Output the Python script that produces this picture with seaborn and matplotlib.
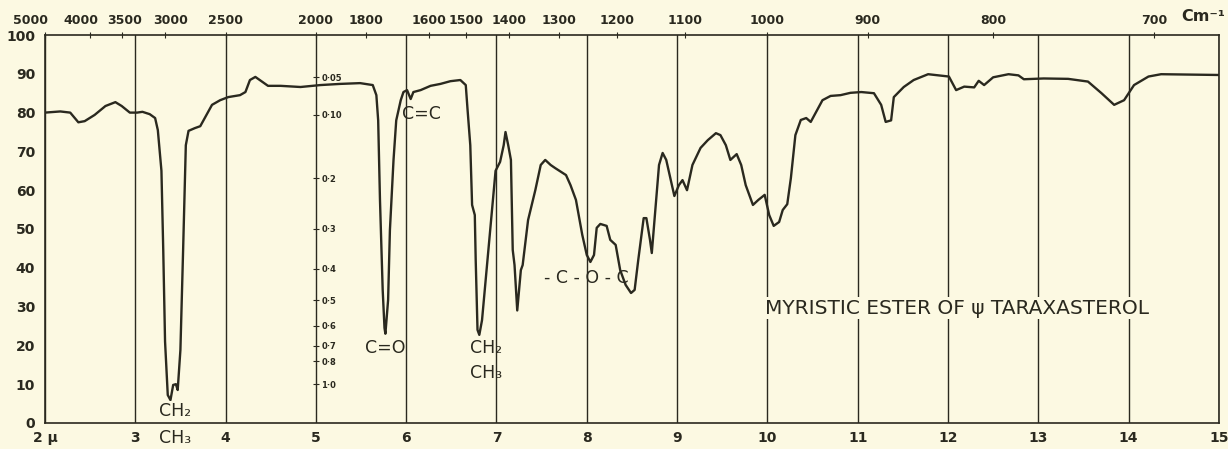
import numpy as np
import matplotlib
matplotlib.use("Agg")
import matplotlib.pyplot as plt
import matplotlib.transforms as mtransforms
import seaborn as sns

# IR spectrum: wavelength (microns) vs transmittance (%)
wavelength_um = [
    2.00, 2.17, 2.28, 2.37, 2.44, 2.55, 2.67, 2.78, 2.85, 2.94, 3.02, 3.08, 3.16, 3.22,
    3.25, 3.29, 3.31, 3.33, 3.36, 3.39, 3.42, 3.45, 3.47, 3.50, 3.53, 3.56, 3.59, 3.66,
    3.72, 3.77, 3.85, 3.94, 4.03, 4.16, 4.22, 4.27, 4.33, 4.41, 4.47, 4.61, 4.83, 5.05,
    5.27, 5.49, 5.63, 5.67, 5.69, 5.71, 5.74, 5.76, 5.77, 5.80, 5.82, 5.86, 5.89, 5.94,
    5.97, 6.01, 6.05, 6.08, 6.16, 6.27, 6.38, 6.49, 6.60, 6.66, 6.68, 6.71, 6.73, 6.76,
    6.77, 6.79, 6.81, 6.84, 6.91, 6.99, 7.04, 7.08, 7.10, 7.13, 7.16, 7.18, 7.20, 7.23,
    7.27, 7.29, 7.35, 7.43, 7.49, 7.54, 7.60, 7.65, 7.77, 7.82, 7.88, 7.95, 8.00, 8.04,
    8.08, 8.11, 8.15, 8.22, 8.26, 8.32, 8.37, 8.43, 8.49, 8.53, 8.57, 8.63, 8.66, 8.70,
    8.72, 8.75, 8.80, 8.84, 8.88, 8.93, 8.97, 9.02, 9.06, 9.11, 9.17, 9.26, 9.34, 9.43,
    9.48, 9.54, 9.59, 9.66, 9.71, 9.76, 9.84, 9.90, 9.97, 10.02, 10.07, 10.13, 10.17,
    10.22, 10.26, 10.31, 10.37, 10.43, 10.48, 10.54, 10.61, 10.70, 10.81, 10.92, 11.04,
    11.18, 11.26, 11.31, 11.37, 11.40, 11.51, 11.62, 11.78, 12.01, 12.09, 12.18, 12.29,
    12.34, 12.40, 12.50, 12.67, 12.78, 12.84, 13.06, 13.33, 13.55, 13.70, 13.84, 13.95,
    14.06, 14.22, 14.36, 15.00,
]
transmittance_pct = [
    80.0, 80.3, 80.0, 77.5, 77.8, 79.4, 81.7, 82.7, 81.7, 80.0, 80.0, 80.2, 79.6, 78.6,
    75.5, 65.0, 44.6, 21.0, 7.2, 5.9, 9.8, 10.0, 8.5, 18.8, 44.6, 71.6, 75.3, 76.0,
    76.5, 78.6, 82.0, 83.2, 84.0, 84.5, 85.3, 88.4, 89.2, 87.9, 86.9, 86.9, 86.6, 87.1,
    87.4, 87.6, 87.1, 84.5, 78.0, 57.5, 34.3, 24.5, 23.0, 31.7, 49.7, 67.8, 78.0, 83.2,
    85.3, 85.8, 83.5, 85.3, 85.8, 86.9, 87.4, 88.1, 88.4, 87.1, 80.7, 71.6, 56.2, 53.6,
    42.0, 24.0, 22.7, 26.5, 44.6, 65.0, 67.3, 71.6, 75.0, 71.6, 67.8, 44.6, 40.7, 29.0,
    39.4, 40.7, 52.3, 60.0, 66.5, 67.8, 66.5, 65.7, 63.9, 61.3, 57.5, 48.5, 43.3, 41.5,
    43.3, 50.3, 51.3, 50.8, 47.2, 45.9, 39.4, 35.6, 33.5, 34.3, 42.0, 52.8, 52.8, 47.2,
    43.8, 52.3, 66.5, 69.6, 67.8, 62.6, 58.5, 61.3, 62.6, 60.0, 66.5, 70.9, 72.9, 74.7,
    74.2, 71.6, 67.8, 69.3, 66.5, 61.3, 56.2, 57.5, 58.8, 53.6, 50.8, 51.8, 54.9,
    56.4, 63.1, 74.2, 78.1, 78.6, 77.6, 80.2, 83.2, 84.3, 84.5, 85.1, 85.3,
    85.0, 82.0, 77.6, 78.0, 84.0, 86.6, 88.4, 89.9, 89.3, 85.8, 86.7, 86.5,
    88.2, 87.1, 89.1, 89.9, 89.6, 88.6, 88.8, 88.7, 88.0, 85.0, 82.0, 83.2,
    87.1, 89.3, 89.9, 89.7,
]

micron_ticks = list(range(2, 16))
micron_labels = ["2 μ"] + [str(m) for m in micron_ticks[1:]]
wavenumbers = [5000, 4000, 3500, 3000, 2500, 2000, 1800, 1600, 1500, 1400, 1300,
               1200, 1100, 1000, 900, 800, 700]
percent_ticks = list(range(0, 101, 10))
absorbance_ticks = [0.05, 0.10, 0.2, 0.3, 0.4, 0.5, 0.6, 0.7, 0.8, 1.0]
absorbance_labels = ["0·05", "0·10", "0·2", "0·3", "0·4", "0·5", "0·6", "0·7", "0·8", "1·0"]

bg = "#fcf9e2"
ink = "#2a291f"

sns.set_style("white")
plt.rcParams["font.family"] = ["DejaVu Sans"]

fig = plt.figure(figsize=(12.28, 4.49), dpi=100, facecolor=bg)
ax = fig.add_axes([0.0366, 0.058, 0.9560, 0.864], facecolor=bg)

sns.lineplot(x=wavelength_um, y=transmittance_pct, estimator=None, sort=False,
             color=ink, lw=1.7, ax=ax)

ax.set_xlim(2, 15)
ax.set_ylim(0, 100)
for s in ax.spines.values():
    s.set_color(ink)
    s.set_linewidth(1.2)

ax.set_xticks(micron_ticks)
ax.set_xticklabels(micron_labels, fontsize=10, fontweight="bold", color=ink)
ax.set_yticks(percent_ticks)
ax.set_yticklabels([str(p) for p in percent_ticks], fontsize=10, fontweight="bold", color=ink)
ax.tick_params(axis="x", length=0, pad=6)
ax.tick_params(axis="y", direction="out", length=3, color=ink, pad=4)
ax.grid(axis="x", color=ink, lw=1.0)
ax.grid(axis="y", visible=False)

# wavenumber scale on top
top = ax.twiny()
top.set_xlim(ax.get_xlim())
top.set_xticks([1e4 / w for w in wavenumbers])
top.set_xticklabels([str(w) for w in wavenumbers], fontsize=9, fontweight="bold", color=ink)
top.tick_params(axis="x", direction="inout", length=5, color=ink, pad=3)
for s in top.spines.values():
    s.set_visible(False)
# crowded labels at the short-wave end sit a little off their ticks, as on the chart
label_shift = {"5000": -14, "4000": -9, "3500": 2, "3000": 5}
for lab in top.get_xticklabels():
    dx = label_shift.get(lab.get_text(), 0)
    if dx:
        lab.set_transform(lab.get_transform() +
                          mtransforms.ScaledTranslation(dx / 100, 0, fig.dpi_scale_trans))
fig.text(0.962, 0.953, "Cm⁻¹", fontsize=11.5, fontweight="bold", color=ink)

# absorbance scale along the 5 micron line
def t_to_a(t):
    return -np.log10(np.clip(np.asarray(t, dtype=float), 1e-3, None) / 100)

def a_to_t(a):
    return 100 * 10 ** (-np.asarray(a, dtype=float))

sec = ax.secondary_yaxis((5 - 2) / 13, functions=(t_to_a, a_to_t))
sec.yaxis.set_ticks_position("right")
sec.set_yticks(absorbance_ticks)
sec.set_yticklabels(absorbance_labels, fontsize=6, fontweight="bold", color=ink)
sec.tick_params(axis="y", direction="inout", length=4, color=ink, pad=2)
for s in sec.spines.values():
    s.set_visible(False)

# band assignments
note = dict(color=ink, fontsize=12.5, ha="center", va="center")
ax.text(3.44, 3.0, "CH₂", **note, clip_on=False,
        bbox=dict(facecolor=bg, edgecolor="none", pad=1))
ax.text(3.44, -3.8, "CH₃", **note, clip_on=False)
ax.text(5.77, 19.3, "C=O", **note)
ax.text(6.17, 79.6, "C=C", **note)
ax.text(6.88, 19.3, "CH₂", **note)
ax.text(6.88, 12.9, "CH₃", **note)
ax.text(7.99, 37.4, "- C - O - C", **note)
ax.text(9.97, 29.6, "MYRISTIC ESTER OF ψ TARAXASTEROL", color=ink, fontsize=14.5,
        ha="left", va="center",
        bbox=dict(facecolor=bg, edgecolor="none", pad=1))

fig.savefig("out.png", dpi=100, facecolor=bg)
